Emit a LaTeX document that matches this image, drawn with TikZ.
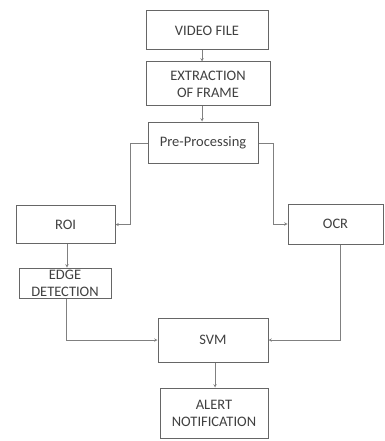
\documentclass[tikz,border=0pt]{standalone}
\usepackage{fontspec}
\setmainfont{Carlito}
\usepackage{tikz}

\begin{document}
\begin{tikzpicture}[x=1pt,y=-1pt,>=stealth,
	box/.style={draw=gray!80!black, line width=1pt, align=center, inner sep=1pt, font=\fontsize{14.5}{17}\selectfont, text=black!75},
	link/.style={->, draw=gray, line width=0.5pt}]
	\useasboundingbox (0,0) rectangle (384,441);
	\node[box, minimum width=122pt, minimum height=39pt] (video) at (207,30.5) {VIDEO FILE};
	\node[box, minimum width=124pt, minimum height=44pt] (frame) at (208,84) {EXTRACTION\\OF FRAME};
	\node[box, minimum width=110pt, minimum height=41pt] (pre) at (203,142.5) {Pre-Processing};
	\node[box, minimum width=99pt, minimum height=38pt] (roi) at (65.5,224.5) {ROI};
	\node[box, minimum width=95pt, minimum height=40pt] (ocr) at (335.5,224) {OCR};
	\node[box, minimum width=92pt, minimum height=30pt] (edge) at (65,283) {EDGE\\DETECTION};
	\node[box, minimum width=110pt, minimum height=44pt] (svm) at (213,340) {SVM};
	\node[box, minimum width=108pt, minimum height=50pt] (alert) at (214,413) {ALERT\\NOTIFICATION};
	\coordinate (pl) at (130,143);
	\coordinate (pr) at (273,143);
	\draw[link] (video.south -| 202,0) -- (frame.north -| 202,0);
	\draw[link] (frame.south -| 202,0) -- (pre.north -| 202,0);
	\draw[link] (pre.west |- pl) -- (pl) |- (roi.east);
	\draw[link] (pre.east |- pr) -- (pr) |- (ocr.west);
	\draw[link] (roi.south -| 67,0) -- (edge.north -| 67,0);
	\draw[link] (edge.south -| 66,0) |- (svm.west);
	\draw[link] (ocr.south -| 340,0) |- (svm.east);
	\draw[link] (svm.south -| 215,0) -- (alert.north -| 215,0);
\end{tikzpicture}
\end{document}
